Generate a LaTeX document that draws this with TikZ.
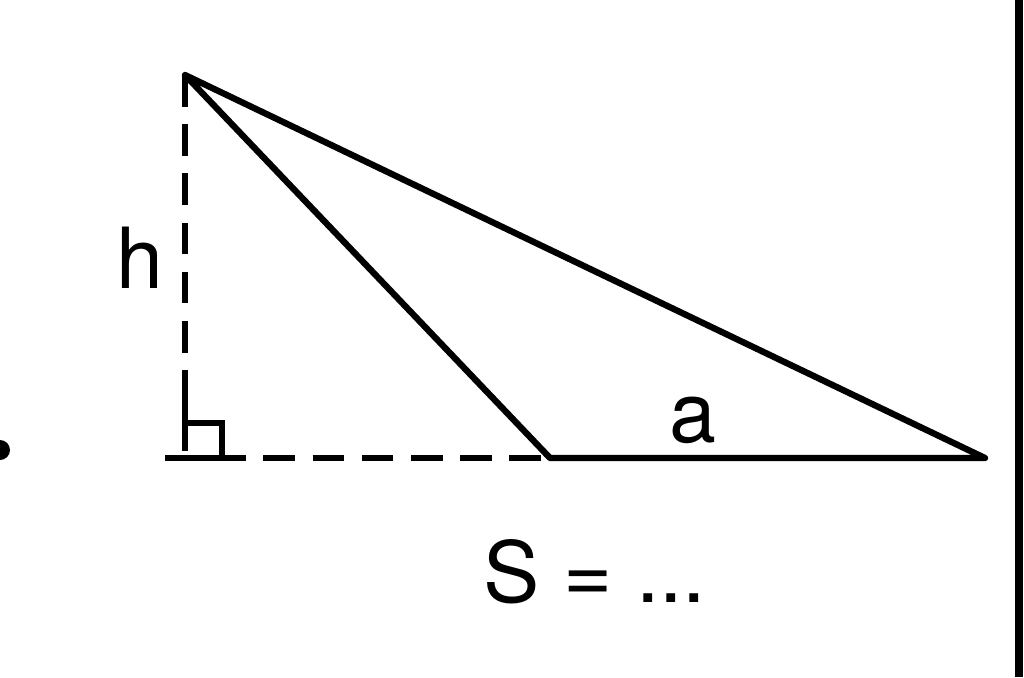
\documentclass[tikz,border=0pt]{standalone}
\usepackage{fontspec}
\setmainfont{TeX Gyre Heros}
\usetikzlibrary{positioning, calc}

\begin{document}
\begin{tikzpicture}[
		edge/.style={line width=1.8pt,line join=round,line cap=round},
		aux/.style={line width=1.6pt,dashed,dash pattern=on 9pt off 5pt},
		lbl/.style={inner sep=0pt,font=\fontsize{24}{28}\selectfont}]
		\useasboundingbox (0,0) rectangle (10.24,6.77);
		\coordinate (top) at (1.85,6.02);
		\coordinate (foot) at (1.85,2.19);
		\coordinate (mid) at (5.50,2.19);
		\coordinate (rgt) at (9.85,2.19);
		\coordinate (lft) at (1.65,2.19);
		% height and extension of the base
		\draw [aux] (top) -- (foot);
		\draw [aux] (lft) -- (mid);
		\draw [line width=1.6pt] (lft) -- ($(foot)+(0.5,0)$);
		\draw [line width=1.6pt] ($(foot)+(0.37,0)$) -- ++(0,0.35) -- ++(-0.37,0) -- ++(0,0.28);
		% triangle
		\draw [edge] (top) -- (mid) -- (rgt) -- cycle;
		\node (h) [lbl] at (1.40,4.19) {h};
		\node (a) [lbl] at (6.93,2.57) {a};
		\node (area) [lbl] at (5.95,1.05) {S = ...};
		% page edge and stray mark
		\fill (0,2.27) circle (0.1);
		\draw [line width=2pt] (10.19,0) -- (10.19,6.77);
	\end{tikzpicture}
\end{document}
